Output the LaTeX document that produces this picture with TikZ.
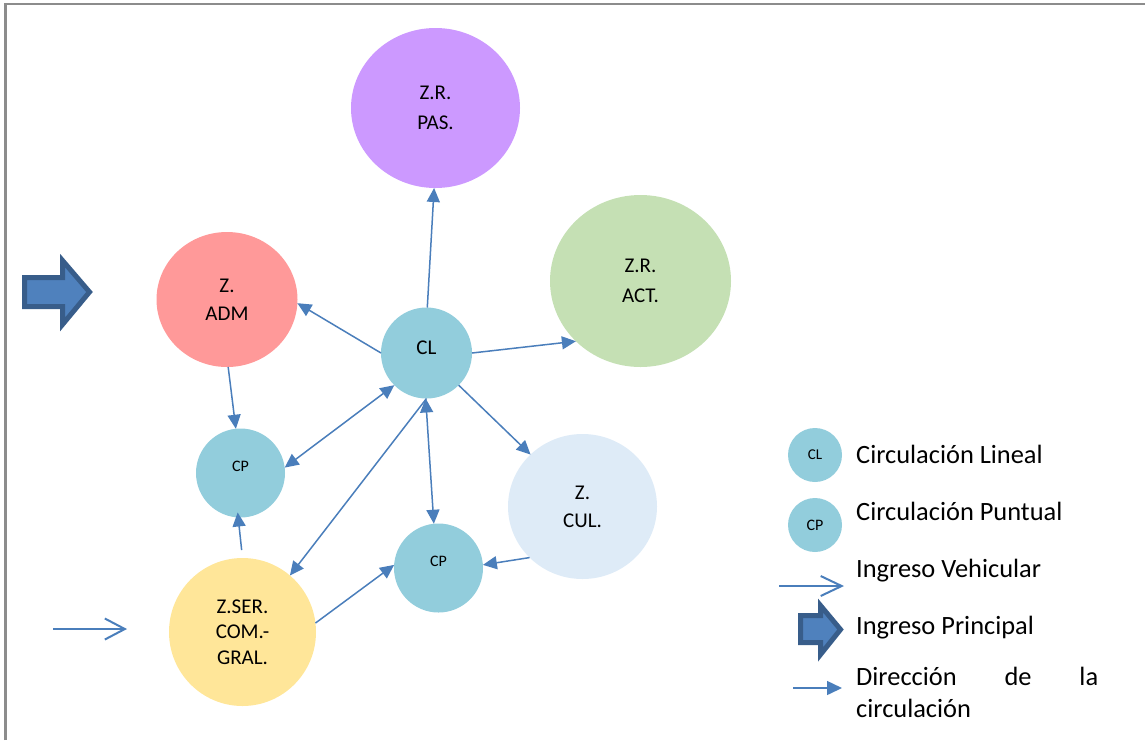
\documentclass[tikz,border=0pt]{standalone}
\usepackage{fontspec}
\setmainfont{Carlito}
\usetikzlibrary{arrows.meta,shapes.geometric}

\definecolor{zpas}{HTML}{CC99FF}
\definecolor{zact}{HTML}{C5E0B4}
\definecolor{zadm}{HTML}{FF9999}
\definecolor{zcul}{HTML}{DEEBF7}
\definecolor{zser}{HTML}{FFE699}
\definecolor{circ}{HTML}{92CDDC}
\definecolor{flowblue}{HTML}{4A7EBB}
\definecolor{arrowfill}{HTML}{4F81BD}
\definecolor{arrowline}{HTML}{385D8A}
\definecolor{framegray}{HTML}{8C8C8C}

\newcommand{\zonefont}[1]{\fontsize{21}{#1}\selectfont}

\begin{document}
\begin{tikzpicture}[x=1pt,y=-1pt,
  zone/.style={ellipse, inner sep=0pt, outer sep=0pt, align=center},
  circnode/.style={circle, fill=circ, inner sep=0pt, outer sep=0pt},
  flow/.style={draw=flowblue, line width=1.5pt, -{Triangle[length=14pt,width=13pt]}},
  bothflow/.style={draw=flowblue, line width=1.5pt,
    {Triangle[length=14pt,width=13pt]}-{Triangle[length=14pt,width=13pt]}},
  vehic/.style={draw=flowblue, line width=2pt, -{Straight Barb[length=20pt,width=21pt]}},
  bigarrow/.style={fill=arrowfill, draw=arrowline, line width=5pt, line join=miter},
  legtext/.style={anchor=base west, inner sep=0pt, font=\fontsize{26.4}{32}\selectfont}
]
\useasboundingbox (0,0) rectangle (1145,740);

% frame
\draw[framegray, line width=2.5pt] (5.5,740) -- (5.5,4) -- (1145,4);

% zones
\node[zone, font=\zonefont{30}, fill=zpas, minimum width=169pt, minimum height=160pt] (pas) at (435.5,108) {Z.R.\\PAS.};
\node[zone, font=\zonefont{30}, fill=zact, minimum width=181pt, minimum height=172pt] (act) at (640.5,281) {Z.R.\\ACT.};
\node[zone, font=\zonefont{28}, fill=zadm, minimum width=141pt, minimum height=135pt] (adm) at (227,299.5) {Z.\\ADM};
\node[zone, font=\zonefont{28}, fill=zcul, minimum width=149pt, minimum height=145pt] (cul) at (582.5,506.5) {Z.\\CUL.};
\node[zone, font=\zonefont{25.5}, fill=zser, minimum width=147pt, minimum height=148pt] (ser) at (242.5,632) {Z.SER.\\COM.-\\GRAL.};

% circulation nodes
\node[circnode, minimum size=91pt,
  label={[yshift=5pt, font=\fontsize{21}{24}\selectfont]center:CL}] (cl) at (426.5,353) {};
\node[circnode, minimum size=89pt,
  label={[yshift=7pt, font=\fontsize{16}{18}\selectfont]center:CP}] (cpl) at (240.5,473) {};
\node[circnode, minimum size=89pt,
  label={[yshift=7pt, font=\fontsize{16}{18}\selectfont]center:CP}] (cpb) at (438.5,568) {};

% flows
\draw[flow] (cl.89) -- (pas.-91);
\draw[flow] (cl.180) -- (adm.-3);
\draw[flow] (cl.0) -- (act.223);
\draw[flow] (cl.-45) -- (cul.135);
\draw[bothflow] (cl.-91) -- (cpb.96);
\draw[bothflow] (cl.225) -- (cpl.7);
\draw[flow] (cl.-90) -- (ser.50);
\draw[flow] (adm.-89) -- (cpl.96);
\draw[flow, shorten <=8pt, shorten >=-5pt] (ser.90) -- (cpl.-93);
\draw[flow] (ser.7) -- (cpb.176);
\draw[flow] (cul.224.5) -- (cpb.4.5);

% main entrance and vehicle entrance
\draw[bigarrow] (24.5,277.5) -- (62.5,277.5) -- (62.5,260.5) -- (89.5,292) -- (62.5,324.5) -- (62.5,306.5) -- (24.5,306.5) -- cycle;
\coordinate (va) at (53,629);
\coordinate (vb) at (127,629);
\draw[vehic] (va) -- (vb);

% legend
\node[circnode, minimum size=54pt, font=\fontsize{15}{17}\selectfont] (lcl) at (815,455) {CL};
\node[circnode, minimum size=54pt, font=\fontsize{16}{18}\selectfont] (lcp) at (815,525) {CP};
\node[legtext] (tcl) at (856,463) {Circulación Lineal};
\node[legtext] (tcp) at (856,520) {Circulación Puntual};
\node[legtext] (tiv) at (856,577) {Ingreso Vehicular};
\node[legtext] (tip) at (856,634) {Ingreso Principal};
\node[anchor=north west, inner sep=0pt, font=\fontsize{26.4}{32}\selectfont] (tdc) at (856,667)
  {\parbox{242pt}{Dirección\hfill de\hfill la\\circulación}};

\coordinate (lva) at (779,586);
\coordinate (lvb) at (844,586);
\draw[vehic, -{Straight Barb[length=21pt,width=20pt]}] (lva) -- (lvb);
\draw[bigarrow] (800.5,615.5) -- (820.5,615.5) -- (820.5,605.5) -- (840.5,629.5) -- (820.5,654.5) -- (820.5,642.5) -- (800.5,642.5) -- cycle;
\coordinate (lda) at (793,688);
\coordinate (ldb) at (842,688);
\draw[flow, -{Triangle[length=15pt,width=14pt]}] (lda) -- (ldb);
\end{tikzpicture}
\end{document}
